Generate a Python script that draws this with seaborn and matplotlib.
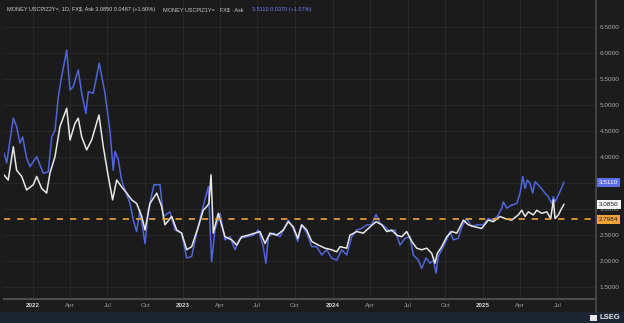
import numpy as np
import pandas as pd
import matplotlib
matplotlib.use("Agg")
import matplotlib.pyplot as plt
from matplotlib.patches import Rectangle
from matplotlib.lines import Line2D
import seaborn as sns

# ---------------- data (decimal years) -------------
blue_t = [2021.807, 2021.825, 2021.869, 2021.891, 2021.913, 2021.931, 2021.958, 2021.980,
          2022.025, 2022.069, 2022.102, 2022.125, 2022.147, 2022.169, 2022.191, 2022.225,
          2022.247, 2022.269, 2022.302, 2022.325, 2022.353, 2022.369, 2022.402, 2022.442,
          2022.480, 2022.513, 2022.535, 2022.547, 2022.569, 2022.591, 2022.613, 2022.647,
          2022.669, 2022.691, 2022.713, 2022.747, 2022.769, 2022.807, 2022.847, 2022.869,
          2022.913, 2022.947, 2022.991, 2023.025, 2023.058, 2023.091, 2023.125, 2023.169,
          2023.191, 2023.213, 2023.247, 2023.280, 2023.313, 2023.347, 2023.380, 2023.425,
          2023.469, 2023.502, 2023.535, 2023.553, 2023.569, 2023.602, 2023.647, 2023.669,
          2023.702, 2023.735, 2023.765, 2023.791, 2023.825, 2023.858, 2023.891, 2023.925,
          2023.958, 2023.991, 2024.025, 2024.058, 2024.091, 2024.125, 2024.158, 2024.191,
          2024.225, 2024.258, 2024.287, 2024.313, 2024.347, 2024.380, 2024.413, 2024.447,
          2024.480, 2024.513, 2024.535, 2024.569, 2024.591, 2024.620, 2024.647, 2024.669,
          2024.687, 2024.702, 2024.725, 2024.758, 2024.780, 2024.802, 2024.835, 2024.858,
          2024.891, 2024.925, 2024.958, 2025.002, 2025.035, 2025.069, 2025.102, 2025.125,
          2025.135, 2025.158, 2025.191, 2025.225, 2025.247, 2025.265, 2025.280, 2025.295,
          2025.313, 2025.331, 2025.347, 2025.380, 2025.413, 2025.435, 2025.458, 2025.469,
          2025.480, 2025.502, 2025.518, 2025.540]
blue_v = [4.07, 3.88, 4.74, 4.58, 4.26, 4.38, 3.97, 3.81,
          4.00, 3.68, 3.71, 4.38, 4.51, 5.15, 5.54, 6.05,
          5.28, 5.35, 5.67, 5.22, 4.83, 5.25, 5.22, 5.80,
          5.22, 4.51, 3.74, 4.10, 3.94, 3.55, 3.36, 3.10,
          2.78, 2.56, 2.97, 2.33, 2.97, 3.46, 3.46, 2.85,
          2.94, 2.59, 2.53, 2.05, 2.08, 2.53, 2.94, 3.42,
          1.98, 2.59, 2.91, 2.40, 2.46, 2.21, 2.43, 2.46,
          2.49, 2.59, 2.27, 1.95, 2.46, 2.53, 2.46, 2.59,
          2.78, 2.62, 2.37, 2.69, 2.53, 2.27, 2.27, 2.11,
          2.21, 2.05, 2.01, 2.21, 2.11, 2.46, 2.59, 2.62,
          2.69, 2.69, 2.89, 2.72, 2.65, 2.56, 2.59, 2.30,
          2.43, 2.46, 2.11, 2.01, 1.85, 2.05, 1.95, 2.01,
          1.76, 2.08, 2.21, 2.40, 2.56, 2.40, 2.43, 2.65,
          2.81, 2.65, 2.69, 2.69, 2.81, 2.78, 2.88, 3.01,
          3.13, 3.01, 3.07, 3.10, 3.30, 3.62, 3.39, 3.55,
          3.49, 3.30, 3.52, 3.42, 3.30, 3.23, 3.10, 3.23,
          3.13, 3.26, 3.36, 3.511]

white_t = [2021.807, 2021.835, 2021.869, 2021.891, 2021.925, 2021.958, 2022.002, 2022.025,
           2022.058, 2022.091, 2022.113, 2022.147, 2022.180, 2022.225, 2022.247, 2022.280,
           2022.302, 2022.325, 2022.358, 2022.391, 2022.440, 2022.469, 2022.502, 2022.531,
           2022.558, 2022.591, 2022.625, 2022.658, 2022.691, 2022.725, 2022.747, 2022.780,
           2022.825, 2022.858, 2022.880, 2022.925, 2022.958, 2022.991, 2023.025, 2023.058,
           2023.102, 2023.135, 2023.158, 2023.173, 2023.187, 2023.202, 2023.235, 2023.280,
           2023.325, 2023.358, 2023.391, 2023.435, 2023.480, 2023.513, 2023.547, 2023.580,
           2023.625, 2023.669, 2023.702, 2023.735, 2023.765, 2023.791, 2023.825, 2023.858,
           2023.902, 2023.947, 2023.991, 2024.025, 2024.047, 2024.091, 2024.113, 2024.158,
           2024.202, 2024.247, 2024.287, 2024.325, 2024.358, 2024.391, 2024.425, 2024.458,
           2024.491, 2024.525, 2024.558, 2024.591, 2024.625, 2024.658, 2024.680, 2024.695,
           2024.725, 2024.758, 2024.791, 2024.825, 2024.847, 2024.869, 2024.902, 2024.947,
           2024.991, 2025.035, 2025.069, 2025.113, 2025.147, 2025.191, 2025.235, 2025.258,
           2025.280, 2025.302, 2025.335, 2025.358, 2025.391, 2025.425, 2025.451, 2025.469,
           2025.480, 2025.502, 2025.525, 2025.540]
white_v = [3.65, 3.55, 4.19, 3.74, 3.62, 3.36, 3.46, 3.62,
           3.39, 3.30, 3.68, 4.00, 4.58, 4.93, 4.32, 4.64,
           4.74, 4.38, 4.13, 4.32, 4.80, 4.19, 3.62, 3.17,
           3.55, 3.42, 3.30, 3.17, 3.10, 2.85, 2.59, 3.10,
           3.30, 3.04, 2.69, 2.85, 2.59, 2.53, 2.21, 2.27,
           2.65, 2.97, 3.04, 3.10, 3.65, 2.53, 2.91, 2.46,
           2.40, 2.30, 2.46, 2.49, 2.53, 2.56, 2.33, 2.53,
           2.49, 2.59, 2.75, 2.65, 2.43, 2.69, 2.59, 2.37,
           2.30, 2.24, 2.21, 2.17, 2.27, 2.24, 2.49, 2.56,
           2.53, 2.65, 2.75, 2.69, 2.56, 2.59, 2.49, 2.46,
           2.56, 2.37, 2.24, 2.21, 2.24, 2.14, 1.95, 2.14,
           2.27, 2.46, 2.56, 2.53, 2.65, 2.78, 2.69, 2.65,
           2.62, 2.78, 2.75, 2.85, 2.81, 2.78, 2.88, 2.97,
           2.85, 2.94, 2.88, 2.97, 2.91, 2.94, 2.81, 3.17,
           2.81, 2.88, 3.01, 3.085]

ref_level = 2.7984
blue_last = 3.5110
white_last = 3.0850
y_ticks = [1.5, 2.0, 2.5, 3.0, 3.5, 4.0, 4.5, 5.0, 5.5, 6.0, 6.5]

header_white = "MONEY USCPIZ2Y=, 1D, FX$, Ask 3.0850 0.0487 (+1.60%)"
header_blue_name = "MONEY USCPIZ1Y= \u00b7 FX$ \u00b7 Ask"
header_blue_vals = "3.5110 0.0370 (+1.07%)"

# ---------------- helpers -------------
def to_dt(ts):
    base = pd.Timestamp("2022-01-01")
    return [base + pd.to_timedelta((t - 2022.0) * 365.25, unit="D") for t in ts]

df_blue = pd.DataFrame({"date": to_dt(blue_t), "value": blue_v})
df_white = pd.DataFrame({"date": to_dt(white_t), "value": white_v})

sns.set_style("dark")
plt.rcParams["font.family"] = ["Liberation Sans", "DejaVu Sans"]
plt.rcParams["lines.scale_dashes"] = False

W, H = 624, 323
BG = "#1c1c1c"
BLUE = "#5165dc"
WHITE = "#e8e8e8"
ORANGE = "#f0a435"

fig = plt.figure(figsize=(W / 100, H / 100), dpi=100)
fig.patch.set_facecolor(BG)

ax_left, ax_right, ax_bottom_px = 4, 596, 299
ax = fig.add_axes([ax_left / W, (H - ax_bottom_px) / H, (ax_right - ax_left) / W, ax_bottom_px / H])
ax.set_facecolor("#1b1b1b")

sns.lineplot(data=df_blue, x="date", y="value", color=BLUE, lw=1.1, ax=ax,
             sort=False, estimator=None, zorder=3)
sns.lineplot(data=df_white, x="date", y="value", color=WHITE, lw=1.1, ax=ax,
             sort=False, estimator=None, zorder=4)

ax.axhline(ref_level, color=ORANGE, lw=1.2, linestyle=(0, (4.5, 5.0)), zorder=5)

x0, x1 = to_dt([2021.807, 2025.753])
ax.set_xlim(x0, x1)
ax.set_ylim(1.263, 7.013)

# x ticks quarterly
xt = pd.date_range("2022-01-01", "2025-07-01", freq="QS")
ax.set_xticks(xt)
labels = [str(d.year) if d.month == 1 else d.strftime("%b") for d in xt]
ax.set_xticklabels(labels)
for lab, d in zip(ax.get_xticklabels(), xt):
    if d.month == 1:
        lab.set_color("#d6d6d6")
        lab.set_fontweight("bold")
    else:
        lab.set_color("#9a9a9a")
    lab.set_fontsize(4.5)
ax.tick_params(axis="x", length=0, pad=3)

ax.yaxis.tick_right()
ax.set_yticks(y_ticks)
ax.set_yticklabels([f"{v:.4f}" for v in y_ticks])
ax.tick_params(axis="y", length=0, pad=2.5, labelsize=4.6, labelcolor="#a8a8a8")

ax.grid(True, color="#282828", lw=0.7)
ax.set_xlabel("")
ax.set_ylabel("")
for s in ["top", "left"]:
    ax.spines[s].set_visible(False)
ax.spines["bottom"].set_color("#4c4c4c")
ax.spines["bottom"].set_linewidth(1.5)
ax.spines["right"].set_visible(False)

# right separator line across axes and x-label band
fig.add_artist(Line2D([ax_right / W, ax_right / W], [11 / H, 1.0], transform=fig.transFigure,
                      color="#4c4c4c", lw=1.2))

# value boxes on right axis
ytrans = ax.get_yaxis_transform()
bx = 1.0 + 3 / (ax_right - ax_left)
for val, fc, tc in [(blue_last, "#5a6ee8", "#ffffff"), (white_last, "#f2f2f2", "#222222"),
                    (ref_level, "#f0a435", "#222222")]:
    ax.text(bx, val, f"{val:.4f}", transform=ytrans, fontsize=4.6, color=tc,
            va="center", ha="left", zorder=10, clip_on=False,
            bbox=dict(boxstyle="square,pad=0.3", fc=fc, ec="none"))

# header
fig.text(7 / W, 1 - 10 / H, header_white, fontsize=4.0, color="#d0d0d0", va="center", ha="left")
fig.text(163 / W, 1 - 10 / H, header_blue_name, fontsize=4.0, color="#c8c8c8", va="center", ha="left")
fig.text(252 / W, 1 - 10 / H, header_blue_vals, fontsize=4.0, color="#6f80ee", va="center", ha="left")

# bottom band with LSEG mark
fig.add_artist(Rectangle((0, 0), 1, 11 / H, transform=fig.transFigure, fc="#1d2533", ec="none"))
fig.add_artist(Rectangle((590 / W, 2.5 / H), 7 / W, 6 / H, transform=fig.transFigure,
                         fc="#e8e8e8", ec="none"))
fig.text(599 / W, 5.5 / H, "LSEG", fontsize=5.5, color="#e8e8e8", fontweight="bold",
         va="center", ha="left")

fig.savefig("out.png", dpi=100, facecolor=fig.get_facecolor())
